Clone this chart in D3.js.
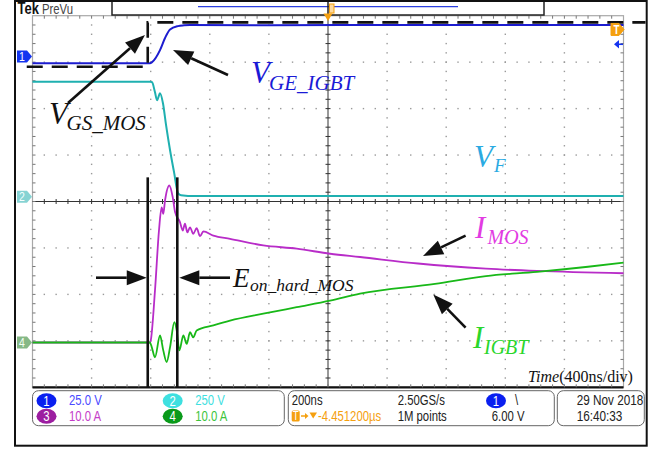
<!DOCTYPE html>
<html>
<head>
<meta charset="utf-8">
<script src="https://cdn.jsdelivr.net/npm/d3@7/dist/d3.min.js"></script>
<style>
  body { margin: 0; background: #fff; }
  svg { display: block; }
</style>
</head>
<body>
<div id="chart"></div>
<script>
// Scope capture: hard turn-on of the MOSFET, 400ns/div

// Time axis (ns) and division settings
let timeRange = [-2000, 2000];
let divRange = [-4, 4];

// Channel volts-or-amps per division and ground marker position (divisions)
let chScale = [25, 250, 10, 10];
let chPos = [3.12, 0.1, -3.035, -3.035];

// Ch1 V_GE_IGBT [ns, V]
let vgeData = [[-2000, -3.6], [-1205, -3.6], [-1191, -3.0], [-1137, 3.5], [-1103, 10.0],
  [-1069, 14.6], [-1015, 16.4], [-975, 16.8], [-934, 17.0], [-400, 16.9], [600, 17.0], [2000, 17.0]];

// Ch2 V_F [ns, V]
let vfData = [[-2000, 619], [-1205, 620], [-1191, 617], [-1171, 563], [-1157, 520],
  [-1137, 558], [-1117, 504], [-1096, 386], [-1069, 251], [-1042, 133], [-1015, 20],
  [-995, 9], [-900, 4], [2000, 4]];

// Ch3 I_MOS [ns, A]
let imosData = [[-2000, 0], [-1205, 0], [-1200, 0.4], [-1171, 11.2], [-1144, 24.1],
  [-1126, 29.1], [-1115, 27.7], [-1103, 30.6], [-1074, 33.8], [-1051, 31.3], [-1035, 28.1],
  [-1002, 25.9], [-983, 24.1], [-968, 25.6], [-952, 23.7], [-934, 24.8], [-912, 23.4],
  [-889, 24.6], [-866, 22.9], [-844, 23.9], [-776, 23.0], [-663, 22.3], [-438, 20.9],
  [-212, 20.2], [14, 19.1], [217, 18.4], [609, 17.0], [1069, 15.9], [1415, 15.4], [2000, 14.9]];

// Ch4 I_IGBT [ns, A]
let iigbtData = [[-2000, 0], [-1205, 0], [-1193, -1.0], [-1171, -3.2], [-1137, 1.5],
  [-1115, -1.7], [-1092, -4.2], [-1069, -1.0], [-1040, 4.4], [-1024, 2.6], [-1006, -1.7],
  [-979, 1.5], [-956, -0.3], [-934, 2.2], [-912, 1.1], [-889, 2.6], [-776, 3.7],
  [-663, 4.7], [-438, 6.2], [-212, 7.6], [14, 9.0], [217, 10.5], [724, 12.6],
  [1069, 14.3], [1415, 15.2], [1760, 16.3], [2000, 17.2]];

// V_GS_MOS reference step (dashed), Ch1 units
let vgsRef = [[-2039, -5.5], [-1220, -5.5], [-1220, 18.4], [2149, 18.4]];

// E_on_hard_MOS window (ns)
let eonWindow = [-1220, -1020];

// Readout texts
let chLabels = ["1", "2", "3", "4"];
let chReadout = ["25.0 V", "250 V", "10.0 A", "10.0 A"];
let timeReadout = ["200ns", "2.50GS/s", "1M points", "6.00 V", "-4.451200\u00b5s"];
let dateReadout = ["29 Nov 2018", "16:40:33"];

let traceColors = ["#1c1ccf", "#1fb0b0", "#b82cc8", "#18b818"];

let W = 666, H = 450;
let gl = 32.5, gr = 623.5, gt = 15.7, gb = 387.3;

let svg = d3.select("#chart")
  .append("svg")
  .attr("width", W)
  .attr("height", H);

let x = d3.scaleLinear().domain(timeRange).range([gl, gr]);
let yDiv = d3.scaleLinear().domain(divRange).range([gb, gt]);

function yCh(ch) {
  return v => yDiv(chPos[ch] + v / chScale[ch]);
}

let sans = "'Liberation Sans', Arial, sans-serif";
let serif = "'Liberation Serif', 'Times New Roman', serif";
let squeeze = 0.81; // scope font is a narrow one

// narrow text: squeezed horizontally around its anchor point
function ntext(xp, yp, txt, size, color, anchor) {
  let g = svg.append("g")
    .attr("transform", `translate(${xp},${yp}) scale(${squeeze},1)`);
  g.append("text")
    .attr("font-family", sans).attr("font-size", size)
    .attr("text-anchor", anchor || "start")
    .attr("fill", color).text(txt);
  return g;
}

// ---------------- graticule ----------------
let grid = svg.append("g");
let minorX = (timeRange[1] - timeRange[0]) / 50;
let minorD = 0.2;

// dotted lines
for (let i = 1; i < 10; i++) {
  if (i == 5) continue;
  let t = timeRange[0] + i * 400;
  grid.selectAll(null)
    .data(d3.range(-4 + minorD, 4, minorD))
    .enter().append("rect")
    .attr("x", x(t) - 0.7).attr("y", d => yDiv(d) - 0.7)
    .attr("width", 1.4).attr("height", 1.4)
    .attr("fill", "#9a9a9a");
}
for (let j = -3; j <= 3; j++) {
  if (j == 0) continue;
  grid.selectAll(null)
    .data(d3.range(timeRange[0] + minorX, timeRange[1], minorX))
    .enter().append("rect")
    .attr("x", d => x(d) - 0.7).attr("y", yDiv(j) - 0.7)
    .attr("width", 1.4).attr("height", 1.4)
    .attr("fill", "#9a9a9a");
}

// frame
grid.append("rect")
  .attr("x", gl).attr("y", gt)
  .attr("width", gr - gl).attr("height", gb - gt)
  .attr("fill", "none").attr("stroke", "#a8a8a8").attr("stroke-width", 1.2);
grid.append("line")
  .attr("x1", gl).attr("x2", gr).attr("y1", gb).attr("y2", gb)
  .attr("stroke", "#111").attr("stroke-width", 2.2);

// center cross with minor ticks
grid.append("line")
  .attr("x1", x(0)).attr("x2", x(0)).attr("y1", gt).attr("y2", gb)
  .attr("stroke", "#333").attr("stroke-width", 1);
grid.append("line")
  .attr("x1", gl).attr("x2", gr).attr("y1", yDiv(0)).attr("y2", yDiv(0))
  .attr("stroke", "#333").attr("stroke-width", 1);

let ticksX = d3.range(timeRange[0] + minorX, timeRange[1], minorX);
let ticksY = d3.range(-4 + minorD, 4 - 0.01, minorD);
grid.selectAll(".tcx")
  .data(ticksX)
  .enter().append("line")
  .attr("x1", d => x(d)).attr("x2", d => x(d))
  .attr("y1", yDiv(0) - 2.5).attr("y2", yDiv(0) + 2.5)
  .attr("stroke", "#333");
grid.selectAll(".tcy")
  .data(ticksY)
  .enter().append("line")
  .attr("x1", x(0) - 2.5).attr("x2", x(0) + 2.5)
  .attr("y1", d => yDiv(d)).attr("y2", d => yDiv(d))
  .attr("stroke", "#333");

// edge ticks
grid.selectAll(".etop")
  .data(ticksX)
  .enter().append("line")
  .attr("x1", d => x(d)).attr("x2", d => x(d))
  .attr("y1", gt).attr("y2", gt + 3)
  .attr("stroke", "#777");
grid.selectAll(".ebot")
  .data(ticksX)
  .enter().append("line")
  .attr("x1", d => x(d)).attr("x2", d => x(d))
  .attr("y1", gb - 3).attr("y2", gb)
  .attr("stroke", "#777");
grid.selectAll(".eleft")
  .data(ticksY)
  .enter().append("line")
  .attr("x1", gl).attr("x2", gl + 3)
  .attr("y1", d => yDiv(d)).attr("y2", d => yDiv(d))
  .attr("stroke", "#777");
grid.selectAll(".eright")
  .data(ticksY)
  .enter().append("line")
  .attr("x1", gr - 3).attr("x2", gr)
  .attr("y1", d => yDiv(d)).attr("y2", d => yDiv(d))
  .attr("stroke", "#777");

// ---------------- traces ----------------
function drawTrace(data, ch, width) {
  let line = d3.line()
    .curve(d3.curveMonotoneX)
    .x(d => x(d[0]))
    .y(d => yCh(ch)(d[1]));
  svg.append("path")
    .datum(data)
    .attr("d", line)
    .attr("fill", "none")
    .attr("stroke", traceColors[ch])
    .attr("stroke-width", width)
    .attr("stroke-linejoin", "round");
}

drawTrace(vfData, 1, 2);
drawTrace(vgeData, 0, 2);
drawTrace(imosData, 2, 1.8);
drawTrace(iigbtData, 3, 1.8);

// V_GS reference (dashed)
svg.append("path")
  .datum(vgsRef)
  .attr("d", d3.line().x(d => x(d[0])).y(d => yCh(0)(d[1])))
  .attr("fill", "none")
  .attr("stroke", "#111")
  .attr("stroke-width", 2.6)
  .attr("stroke-dasharray", "16,9");

// E_on window lines
svg.selectAll(".eon")
  .data(eonWindow)
  .enter().append("line")
  .attr("x1", d => x(d)).attr("x2", d => x(d))
  .attr("y1", yDiv(0.52)).attr("y2", gb)
  .attr("stroke", "#111").attr("stroke-width", 2.6);

// ---------------- markers on the graticule ----------------
function chMarker(yPos, fill, label, txtColor) {
  svg.append("path")
    .attr("d", `M17,${yPos - 6} L27,${yPos - 6} L32,${yPos} L27,${yPos + 6} L17,${yPos + 6} Z`)
    .attr("fill", fill);
  ntext(22, yPos + 4.5, label, 13, txtColor, "middle");
}
chMarker(yDiv(chPos[0]), "#1434f0", "1", "#fff");
chMarker(yDiv(chPos[1]), "#86d3d3", "2", "#f4ffff");
chMarker(yDiv(chPos[3]), "#86b886", "4", "#f4fff4");

// trigger level marker (right) and arrow
let trigY = yCh(0)(14.6);
svg.append("path")
  .attr("d", `M611,${trigY - 6} L619,${trigY - 6} L624,${trigY} L619,${trigY + 6} L611,${trigY + 6} Z`)
  .attr("fill", "#f5a00f").attr("stroke", "#f5a00f").attr("stroke-linejoin", "round");
ntext(616.5, trigY + 4.5, "T", 12, "#fff", "middle").select("text").attr("font-weight", "bold");
svg.append("line")
  .attr("x1", 616).attr("x2", 623).attr("y1", 44.3).attr("y2", 44.3)
  .attr("stroke", "#1434f0").attr("stroke-width", 1.5);
svg.append("path")
  .attr("d", "M614,44.3 L619,40 L619,48.6 Z")
  .attr("fill", "#1434f0");

// ---------------- header ----------------
ntext(17.5, 14, "Tek", 16, "#111").select("text").attr("font-weight", "bold");
ntext(42, 13.5, "PreVu", 14, "#444");
svg.append("rect")
  .attr("x", 112).attr("y", 0.5).attr("width", 432).attr("height", 14.5)
  .attr("fill", "#fff").attr("stroke", "#222").attr("stroke-width", 1.5);
svg.append("line")
  .attr("x1", 198).attr("x2", 458).attr("y1", 6.7).attr("y2", 6.7)
  .attr("stroke", "#2a3ee0").attr("stroke-width", 1.2);
svg.append("line")
  .attr("x1", x(0)).attr("x2", x(0)).attr("y1", 0).attr("y2", 15)
  .attr("stroke", "#222").attr("stroke-width", 1.5);
svg.append("rect")
  .attr("x", x(0) + 1.5).attr("y", 4).attr("width", 4.5).attr("height", 9)
  .attr("fill", "#fcd9a0").attr("stroke", "#f5a00f");
svg.append("path")
  .attr("d", `M${x(0) - 4.5},13.5 L${x(0) + 4.5},13.5 L${x(0)},21 Z`)
  .attr("fill", "#f5a00f");

// ---------------- annotations ----------------
function arrow(x1, y1, x2, y2) {
  let a = Math.atan2(y2 - y1, x2 - x1);
  let hl = 20, hw = 7.5;
  let bx = x2 - hl * Math.cos(a), by = y2 - hl * Math.sin(a);
  svg.append("line")
    .attr("x1", x1).attr("y1", y1).attr("x2", bx).attr("y2", by)
    .attr("stroke", "#111").attr("stroke-width", 2.6);
  svg.append("path")
    .attr("d", `M${x2},${y2} L${bx + hw * Math.sin(a)},${by - hw * Math.cos(a)} L${bx - hw * Math.sin(a)},${by + hw * Math.cos(a)} Z`)
    .attr("fill", "#111");
}

arrow(68, 103, 145, 35);
arrow(228, 75, 173, 50);
arrow(96, 277.7, x(eonWindow[0]) - 1, 277.7);
arrow(230, 277.7, x(eonWindow[1]) + 2, 277.7);
arrow(465.6, 235.7, 423, 256);
arrow(465.6, 327.6, 433.3, 294.6);

function label(xp, yp, main, sub, size, subSize, subX, subDy, color) {
  svg.append("text")
    .attr("x", xp).attr("y", yp)
    .attr("font-family", serif).attr("font-style", "italic")
    .attr("font-size", size).attr("fill", color)
    .text(main);
  svg.append("text")
    .attr("x", subX).attr("y", yp + subDy)
    .attr("font-family", serif).attr("font-style", "italic")
    .attr("font-size", subSize).attr("fill", color)
    .text(sub);
}

label(49, 124, "V", "GS_MOS", 31, 21, 66.5, 5.5, "#111");
label(251, 83.3, "V", "GE_IGBT", 31, 21, 269, 6.5, "#1a1ad6");
label(474, 166.7, "V", "F", 31, 19, 494, 5, "#2aaae2");
label(475, 238, "I", "MOS", 31, 20, 487.5, 6, "#e23be2");
label(473, 348, "I", "IGBT", 31, 20, 484, 5.5, "#2bd62b");
label(233, 286.7, "E", "on_hard_MOS", 27, 17.5, 250, 4, "#111");

// time base note
let tn = svg.append("text")
  .attr("x", 528).attr("y", 382)
  .attr("font-family", serif).attr("font-size", 16).attr("fill", "#111");
tn.append("tspan").attr("font-style", "italic").text("Time");
tn.append("tspan").text("(400ns/div)");

// ---------------- readout panels ----------------
function panel(x0, x1) {
  svg.append("rect")
    .attr("x", x0).attr("y", 390.7)
    .attr("width", x1 - x0).attr("height", 35)
    .attr("rx", 6).attr("ry", 6)
    .attr("fill", "#fff").attr("stroke", "#666").attr("stroke-width", 1);
}
panel(32.5, 284.3);
panel(288.3, 554.3);
panel(557.3, 644.3);

let badgeFill = ["#0a1ff0", "#3ee0e0", "#9c1ea0", "#0a9a1a"];
let readColor = ["#4a4aff", "#3ee0e0", "#c43cc8", "#3cc43c"];
let badgePos = [[46.5, 400.8], [172.7, 400.8], [46.5, 416.3], [172.7, 416.3]];

chLabels.forEach((lab, i) => {
  let [cx, cy] = badgePos[i];
  svg.append("ellipse")
    .attr("cx", cx).attr("cy", cy).attr("rx", 10).attr("ry", 7.5)
    .attr("fill", badgeFill[i]);
  ntext(cx, cy + 5, lab, 14, "#fff", "middle");
  ntext(cx + 22.5, cy + 4.5, chReadout[i], 14, readColor[i]);
});

ntext(291.7, 405, timeReadout[0], 14, "#222");
ntext(397.7, 405, timeReadout[1], 14, "#222");
ntext(397.7, 421, timeReadout[2], 14, "#222");
ntext(491.7, 421, timeReadout[3], 14, "#222");
ntext(576.7, 405, dateReadout[0], 14.5, "#222");
ntext(576.7, 421, dateReadout[1], 14.5, "#222");

// trigger position readout
svg.append("rect")
  .attr("x", 291.7).attr("y", 410.5).attr("width", 8).attr("height", 11)
  .attr("rx", 1.5).attr("fill", "#f5a00f");
ntext(295.7, 420, "T", 12, "#fff", "middle");
svg.append("line")
  .attr("x1", 301).attr("x2", 306).attr("y1", 416).attr("y2", 416)
  .attr("stroke", "#f5a00f").attr("stroke-width", 1.5);
svg.append("path")
  .attr("d", "M305,413 L308.5,416 L305,419 Z")
  .attr("fill", "#f5a00f");
svg.append("path")
  .attr("d", "M309.5,412.5 L317,412.5 L313.2,418.5 Z")
  .attr("fill", "#f5a00f");
ntext(318, 421, timeReadout[4], 14, "#f5a00f");

// trigger source badge
svg.append("ellipse")
  .attr("cx", 496).attr("cy", 400.8).attr("rx", 10).attr("ry", 7.5)
  .attr("fill", "#0a1ff0");
ntext(496, 405.8, "1", 14, "#fff", "middle");
ntext(515, 405, "\\", 14, "#222");

// ---------------- outer frame ----------------
svg.append("rect")
  .attr("x", 15).attr("y", 1)
  .attr("width", 631.7).attr("height", 444.7)
  .attr("fill", "none").attr("stroke", "#111").attr("stroke-width", 2);
</script>
</body>
</html>
